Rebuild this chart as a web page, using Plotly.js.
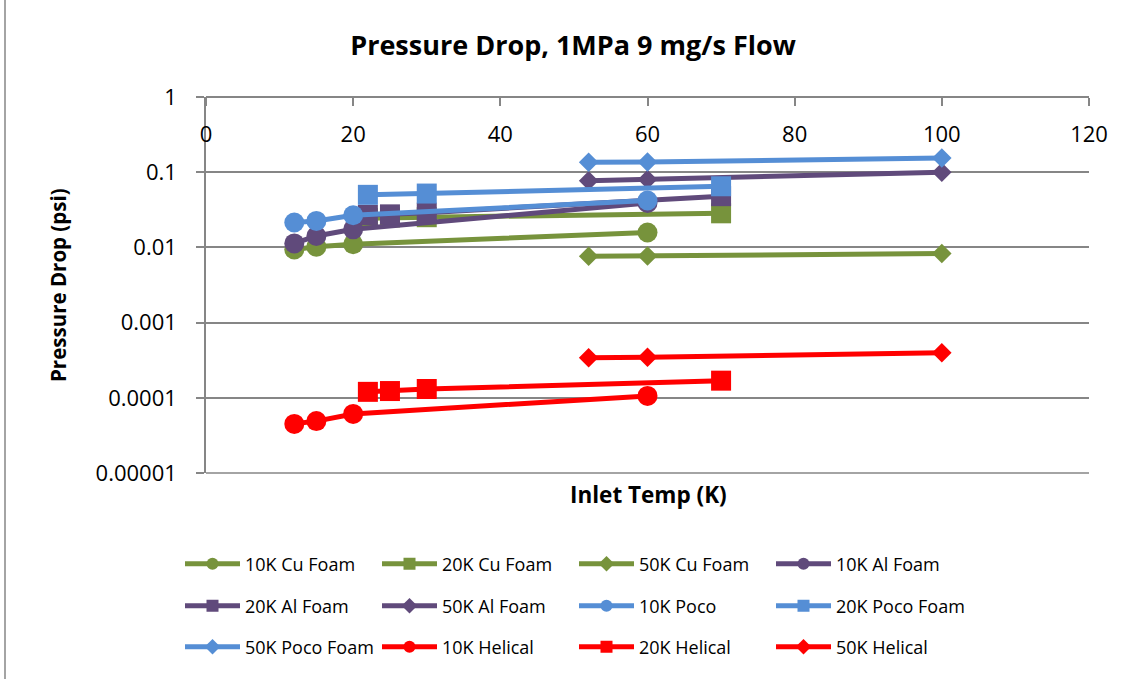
<!DOCTYPE html>
<html>
<head>
<meta charset="utf-8">
<script src="https://cdn.plot.ly/plotly-3.0.1.min.js"></script>
<style>
  html, body { margin: 0; padding: 0; background: #fff; }
  #chart { width: 1139px; height: 679px; }
</style>
</head>
<body>
<div id="chart"></div>
<script>
// Inlet temperatures (K) for each test set
const xTemp10K = [12, 15, 20, 60];
const xTemp20K = [22, 25, 30, 70];
const xTemp20KPoco = [22, 30, 70];
const xTemp50K = [52, 60, 100];

// Pressure drop (psi)
const cuFoam10K = [0.0094, 0.0102, 0.011, 0.0158];
const cuFoam20K = [0.0245, 0.025, 0.0252, 0.0284];
const cuFoam50K = [0.0076, 0.0077, 0.0083];

const alFoam10K = [0.0113, 0.0142, 0.0174, 0.039];
const alFoam20K = [0.027, 0.0275, 0.029, 0.048];
const alFoam50K = [0.077, 0.080, 0.100];

const poco10K = [0.0214, 0.0225, 0.0268, 0.042];
const pocoFoam20K = [0.050, 0.052, 0.065];
const pocoFoam50K = [0.136, 0.137, 0.154];

const helical10K = [0.000045, 0.000049, 0.000061, 0.000106];
const helical20K = [0.000120, 0.000123, 0.000131, 0.000169];
const helical50K = [0.000341, 0.000346, 0.000398];

const yTickVals = [1, 0.1, 0.01, 0.001, 0.0001, 0.00001];
const yTickText = ['1', '0.1', '0.01', '0.001', '0.0001', '0.00001'];

const GREEN = '#77933C', PURPLE = '#604A7B', BLUE = '#558ED5', RED = '#FF0000';
const GRID = '#868686';
const FONT = 'Open Sans, Liberation Sans, sans-serif';

function series(name, x, y, color, symbol, legend) {
  const sizes = { circle: 20, square: 20, diamond: 15 };
  return {
    type: 'scatter', mode: 'lines+markers', name: name, x: x, y: y,
    line: { color: color, width: 5 },
    marker: { color: color, symbol: symbol, size: sizes[symbol] },
    legend: legend
  };
}

const traces = [
  series('10K Cu Foam', xTemp10K, cuFoam10K, GREEN, 'circle', 'legend'),
  series('20K Cu Foam', xTemp20K, cuFoam20K, GREEN, 'square', 'legend'),
  series('50K Cu Foam', xTemp50K, cuFoam50K, GREEN, 'diamond', 'legend'),
  series('10K Al Foam', xTemp10K, alFoam10K, PURPLE, 'circle', 'legend'),
  series('20K Al Foam', xTemp20K, alFoam20K, PURPLE, 'square', 'legend2'),
  series('50K Al Foam', xTemp50K, alFoam50K, PURPLE, 'diamond', 'legend2'),
  series('10K Poco', xTemp10K, poco10K, BLUE, 'circle', 'legend2'),
  series('20K Poco Foam', xTemp20KPoco, pocoFoam20K, BLUE, 'square', 'legend2'),
  series('50K Poco Foam', xTemp50K, pocoFoam50K, BLUE, 'diamond', 'legend3'),
  series('10K Helical', xTemp10K, helical10K, RED, 'circle', 'legend3'),
  series('20K Helical', xTemp20K, helical20K, RED, 'square', 'legend3'),
  series('50K Helical', xTemp50K, helical50K, RED, 'diamond', 'legend3')
];

// plot area: 206..1089 px horizontally, 97..473 px vertically
const L = 206, R = 1089, T = 97, B = 473;
const px = v => (v - L) / (R - L);
const py = v => (B - v) / (B - T);

function legendRow(yPix) {
  return {
    orientation: 'h', x: px(180), xanchor: 'left', y: py(yPix), yanchor: 'middle',
    entrywidth: 127, entrywidthmode: 'pixels', itemwidth: 55,
    itemsizing: 'constant', font: { family: FONT, size: 18, color: '#000' },
    bgcolor: 'rgba(0,0,0,0)', traceorder: 'normal'
  };
}

const layout = {
  width: 1139, height: 679,
  margin: { l: L, r: 1139 - R, t: T, b: 679 - B },
  paper_bgcolor: '#fff', plot_bgcolor: '#fff',
  font: { family: FONT, color: '#000' },
  title: {
    text: '<b>Pressure Drop, 1MPa 9 mg/s Flow</b>',
    font: { family: FONT, size: 27, color: '#000' },
    x: 573 / 1139, xanchor: 'center', xref: 'container',
    y: 1 - 46 / 679, yanchor: 'middle', yref: 'container'
  },
  xaxis: {
    range: [0, 120], dtick: 20, tick0: 0,
    anchor: 'free', position: 1, side: 'bottom',
    showline: true, linecolor: GRID, linewidth: 1.5,
    ticks: 'outside', ticklen: 8, tickcolor: GRID, tickwidth: 1.5,
    ticklabelstandoff: 10,
    showgrid: false, zeroline: false,
    tickfont: { family: FONT, size: 22, color: '#000' }
  },
  yaxis: {
    type: 'log', range: [-5, 0],
    tickvals: yTickVals, ticktext: yTickText,
    showline: true, linecolor: GRID, linewidth: 1.5,
    ticks: 'outside', ticklen: 8, tickcolor: GRID, tickwidth: 1.5,
    ticklabelstandoff: 15,
    showgrid: true, gridcolor: GRID, gridwidth: 1.5,
    zeroline: false,
    tickfont: { family: FONT, size: 22, color: '#000' }
  },
  legend: legendRow(564),
  legend2: legendRow(606),
  legend3: legendRow(647),
  annotations: [
    {
      text: '<b>Pressure Drop (psi)</b>', textangle: -90,
      xref: 'paper', yref: 'paper', x: px(58), y: 0.5,
      xanchor: 'center', yanchor: 'middle', showarrow: false,
      font: { family: FONT, size: 20.5, color: '#000' }
    },
    {
      text: '<b>Inlet Temp (K)</b>',
      xref: 'paper', yref: 'paper', x: px(648), y: py(494),
      xanchor: 'center', yanchor: 'middle', showarrow: false,
      font: { family: FONT, size: 22.5, color: '#000' }
    }
  ],
  shapes: [
    // bottom gridline at the lower edge of the log range
    {
      type: 'line', xref: 'paper', yref: 'paper', layer: 'below',
      x0: 0, x1: 1, y0: 0, y1: 0,
      line: { color: GRID, width: 1.5 }
    },
    // chart frame edge
    {
      type: 'line', xref: 'paper', yref: 'paper',
      x0: px(5), x1: px(5), y0: py(0), y1: py(679),
      line: { color: GRID, width: 1.5 }
    }
  ]
};

Plotly.newPlot('chart', traces, layout, { displayModeBar: false, responsive: false });
</script>
</body>
</html>
